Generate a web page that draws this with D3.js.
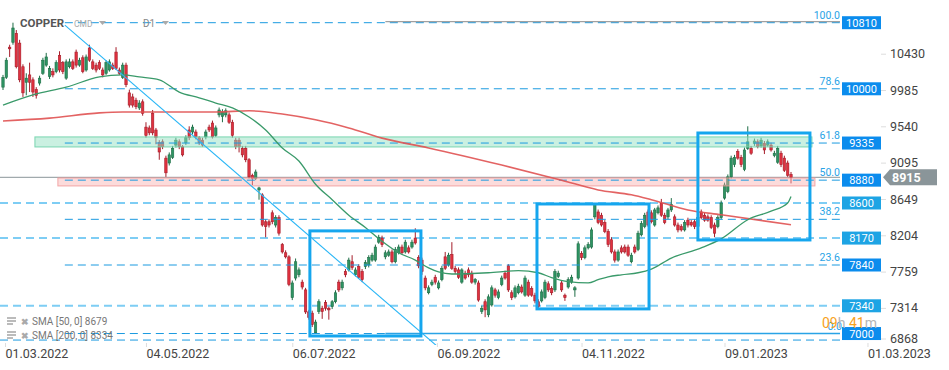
<!DOCTYPE html>
<meta charset="utf-8">
<script src="https://cdn.jsdelivr.net/npm/d3@7"></script>
<style>
body { margin: 0; background: #fff; }
text { font-family: Roboto, "Open Sans", sans-serif; }
.tick line { stroke: #ddd; }
</style>
<body>
<div id="chart"></div>
<script>
// daily copper candles (one entry per trading day)
var opens = [10020,10140,10510,10570,10680,10560,10270,10080,10170,10110,9990,10070,10190,10290,10150,10210,10210,10410,10320,10130,
  10270,10330,10450,10290,10380,10230,10500,10330,10290,10320,10230,10190,10230,10290,10450,10230,10140,10290,9950,9900,
  9860,9765,9840,9530,9520,9700,9495,9340,9350,9150,9090,9160,9310,9350,9290,9340,9495,9470,9470,9400,
  9370,9410,9530,9580,9430,9680,9660,9680,9680,9590,9370,9370,9270,9270,9130,8940,8900,8760,8700,8370,
  8370,8480,8330,8420,8090,7990,7940,7440,7680,7720,7630,7535,7265,7250,7010,7270,7310,7380,7310,7330,
  7390,7630,7560,7760,7780,7880,7720,7820,7760,7820,7840,7900,7900,8120,8170,7940,7960,8000,7880,7990,
  8060,8000,8050,8060,8170,7930,7900,7680,7500,7600,7690,7560,7660,7940,7840,7970,7800,7780,7630,7740,
  7780,7740,7630,7620,7270,7390,7230,7350,7535,7440,7600,7740,7830,7500,7450,7500,7570,7470,7630,7550,
  7470,7390,7400,7440,7610,7550,7535,7700,7620,7470,7570,7630,7535,7680,7980,7930,8050,8060,8430,8490,
  8450,8360,8250,8150,8000,7900,8050,8060,8060,7880,8060,8030,8210,8310,8490,8480,8330,8480,8600,8450,
  8430,8515,8430,8330,8310,8270,8390,8360,8370,8310,8490,8450,8430,8420,8330,8310,8420,8660,8740,8920,
  9070,9230,9160,9010,9270,9270,9330,9350,9300,9330,9310,9310,9180,9100,9210,9150,9090,8950];
var highs = [10170,10380,10540,10810,10720,10600,10300,10190,10320,10140,10020,10160,10380,10440,10280,10250,10350,10460,10340,10360,
  10370,10360,10480,10380,10410,10420,10540,10360,10320,10350,10260,10350,10360,10320,10510,10260,10320,10320,9990,9940,
  9890,9860,9870,9590,9550,9740,9520,9370,9380,9180,9220,9300,9400,9380,9310,9430,9540,9560,9500,9420,
  9400,9500,9560,9610,9550,9770,9750,9760,9710,9620,9400,9400,9300,9300,9150,8960,9010,8800,8720,8400,
  8400,8510,8450,8450,8110,8020,7960,7650,7920,7810,7660,7560,7290,7280,7170,7420,7340,7410,7330,7410,
  7530,7660,7660,7790,7930,7960,7810,7850,7790,7900,7960,7990,8090,8210,8200,8020,8030,8030,8060,8090,
  8090,8150,8080,8150,8290,7960,7930,7710,7590,7660,7720,7650,7830,8000,7990,8120,7830,7810,7800,7770,
  7810,7770,7680,7650,7340,7420,7480,7590,7560,7540,7710,7770,7850,7530,7590,7610,7600,7710,7660,7580,
  7500,7420,7540,7660,7640,7580,7790,7770,7650,7490,7690,7720,7580,8130,8010,8080,8120,8300,8600,8520,
  8480,8390,8280,8180,8030,8030,8080,8090,8090,7990,8090,8260,8380,8480,8520,8510,8540,8570,8650,8480,
  8540,8660,8460,8360,8340,8390,8420,8390,8400,8450,8520,8480,8460,8450,8360,8450,8630,8850,8950,9180,
  9190,9260,9190,9280,9540,9300,9390,9380,9400,9360,9380,9340,9240,9300,9240,9180,9120,8980];
var lows = [9985,10120,10390,10540,10250,10080,9900,9920,9960,9900,9880,10040,10170,10270,10120,10140,10190,10200,10180,10110,
  10250,10230,10260,10270,10190,10210,10330,10230,10200,10230,10140,10170,10210,10230,10230,10170,10120,10020,9770,9770,
  9750,9740,9670,9400,9430,9430,9320,9130,9260,8920,9060,9140,9280,9260,9170,9310,9370,9440,9380,9310,
  9290,9380,9470,9390,9410,9650,9590,9650,9570,9400,9260,9220,9160,9100,8900,8820,8880,8640,8310,8180,
  8300,8340,8300,8200,7980,7920,7580,7410,7650,7690,7540,7240,7170,7080,7000,7240,7180,7280,7170,7300,
  7370,7510,7530,7690,7760,7780,7700,7670,7630,7790,7810,7880,7880,8100,8060,7910,7940,7860,7860,7970,
  7970,7980,7980,8040,8090,7800,7720,7530,7480,7580,7600,7540,7640,7780,7820,7780,7730,7670,7610,7660,
  7690,7610,7600,7390,7240,7200,7200,7330,7440,7420,7580,7660,7510,7410,7430,7480,7490,7450,7450,7450,
  7370,7300,7380,7420,7510,7470,7510,7680,7510,7400,7550,7610,7450,7660,7900,7910,8030,8040,8400,8340,
  8310,8230,8060,7980,7870,7880,7980,7980,7940,7860,7980,8010,8190,8290,8310,8350,8310,8460,8430,8340,
  8400,8490,8310,8240,8250,8250,8300,8310,8280,8290,8400,8370,8370,8280,8180,8290,8400,8640,8720,8900,
  9040,9130,9040,8990,9250,9190,9300,9270,9280,9200,9290,9230,9160,9080,9040,8980,8920,8840];
var closes = [10140,10350,10490,10745,10270,10110,9950,10130,10080,9960,9920,10130,10350,10390,10250,10170,10320,10230,10210,10330,
  10330,10250,10290,10350,10210,10390,10350,10250,10230,10250,10170,10320,10330,10250,10250,10190,10290,10050,9800,9800,
  9780,9825,9700,9430,9460,9460,9400,9225,9290,8970,9190,9270,9370,9290,9190,9400,9400,9530,9410,9340,
  9310,9470,9495,9410,9520,9740,9715,9730,9590,9430,9290,9290,9190,9130,8920,8900,8980,8785,8330,8310,
  8330,8370,8420,8230,8000,7940,7600,7620,7880,7780,7570,7265,7200,7110,7140,7390,7270,7310,7290,7390,
  7500,7535,7630,7720,7900,7810,7780,7690,7660,7870,7930,7960,8060,8180,8090,7990,8000,7880,8030,8060,
  7990,8120,8000,8120,8110,7830,7760,7560,7560,7630,7630,7620,7800,7800,7960,7800,7760,7690,7780,7680,
  7720,7630,7660,7410,7310,7290,7450,7560,7470,7510,7680,7680,7535,7440,7560,7580,7510,7680,7470,7470,
  7400,7330,7510,7630,7535,7500,7760,7740,7535,7440,7660,7690,7560,8100,7930,8050,8090,8270,8580,8360,
  8330,8250,8090,8000,7900,8000,8000,8000,7960,7960,8000,8230,8350,8450,8330,8370,8515,8540,8450,8360,
  8515,8580,8330,8270,8270,8360,8330,8330,8310,8420,8420,8390,8390,8300,8230,8420,8600,8820,8920,9150,
  9160,9150,9070,9250,9350,9210,9360,9290,9370,9250,9350,9250,9210,9270,9070,9000,8940,8915];

// day index -> date label on the time axis
var dateIdx = [0.6, 43, 87, 130.5, 174, 217, 260];
var dateLabels = ["01.03.2022", "04.05.2022", "06.07.2022", "06.09.2022", "04.11.2022", "09.01.2023", "01.03.2023"];
var priceTicks = [10430, 9985, 9540, 9095, 8649, 8204, 7759, 7314, 6868];

// moving averages, sampled along the drawn lines [day index, value]
var sma50 = [[0,9800],[9,9925],[19,10020],[29,10145],[36,10170],[41,10145],[47,10110],[53,9960],[59,9890],[64,9825],
  [69,9765],[74,9655],[79,9495],[84,9275],[89,9115],[94,8830],[99,8640],[104,8450],[109,8300],[114,8130],[119,7990],
  [124,7900],[128,7805],[131,7755],[135,7730],[146,7745],[155,7770],[161,7745],[165,7685],[170,7635],[176,7620],
  [179,7660],[182,7695],[186,7720],[191,7745],[195,7790],[201,7925],[210,8050],[216,8160],[224,8395],[231,8500],
  [236,8600],[237,8679]];
var sma200 = [[0,9605],[14,9640],[29,9705],[36,9715],[49,9715],[64,9715],[74,9730],[84,9690],[94,9620],[104,9520],
  [114,9395],[128,9275],[150,9065],[168,8880],[179,8760],[189,8700],[195,8640],[206,8515],[216,8455],[237,8334]];

// drawing tools
var fibLevels = [10810, 10000, 9335, 8880, 8400, 7840, 7000];
var fibNames = ["100.0", "78.6", "61.8", "50.0", "38.2", "23.6", "0.0"];
var fibStart = 18.6, fibAnchor = 115;
var lineLevels = [8600, 8170, 7340, 6920];
var tagLevels = [10810, 10000, 9335, 8880, 8600, 8170, 7840, 7340, 7000];
var tagDark = [true, true, true, true, false, false, true, false, true];
var zoneGreen = [9.6, 243.3, 9410, 9287];
var zonePink = [16.5, 244.2, 8907, 8809];
var boxes = [[92.3, 125.7, 8258, 6970], [160.6, 194.3, 8588, 7302], [209, 242.7, 9458, 8147]];
var trend = [[18.6, 10780], [129, 6900]];
var lastPrice = 8915;
var smaLegend = ["SMA [50, 0] 8679", "SMA [200, 0] 8334"];

var width = 949, height = 370;
var plotRight = 840, plotBottom = 345;

var svg = d3.select("#chart").append("svg")
  .attr("width", width)
  .attr("height", height);

var x = d3.scaleLinear().domain([0, closes.length - 1]).range([3, 791]);
var y = d3.scaleLinear().domain([6868, 10430]).range([344.3, 53.7]);

svg.append("defs").append("clipPath").attr("id", "plot")
  .append("rect").attr("x", 0).attr("y", 0).attr("width", plotRight).attr("height", plotBottom);

var g = svg.append("g").attr("clip-path", "url(#plot)");

// current price line
g.append("line")
  .attr("x1", 0).attr("x2", plotRight)
  .attr("y1", y(lastPrice)).attr("y2", y(lastPrice))
  .attr("stroke", "#8a9599").attr("stroke-width", 1);

// user horizontal lines
g.selectAll(".hl").data(lineLevels).enter().append("line")
  .attr("x1", 0).attr("x2", plotRight)
  .attr("y1", d => y(d)).attr("y2", d => y(d))
  .attr("stroke", (d, i) => i == 3 ? "#1a9ae0" : "#7ecdf4")
  .attr("stroke-width", (d, i) => i == 3 ? 1 : 2)
  .attr("stroke-dasharray", "8,5");

// candles
var candles = g.append("g");
var idx = d3.range(closes.length);
candles.selectAll(".wick").data(idx).enter().append("line")
  .attr("x1", i => x(i)).attr("x2", i => x(i))
  .attr("y1", i => y(highs[i])).attr("y2", i => y(lows[i]))
  .attr("stroke", i => closes[i] >= opens[i] ? "#1f6e47" : "#a51d2a")
  .attr("stroke-width", 1);
candles.selectAll(".body").data(idx).enter().append("rect")
  .attr("x", i => x(i) - 1.2)
  .attr("width", 2.4)
  .attr("y", i => y(Math.max(opens[i], closes[i])))
  .attr("height", i => Math.max(1, Math.abs(y(opens[i]) - y(closes[i]))))
  .attr("fill", i => closes[i] >= opens[i] ? "#2e9463" : "#e0313f")
  .attr("stroke", i => closes[i] >= opens[i] ? "#1f6e47" : "#a51d2a")
  .attr("stroke-width", 0.6);

// zones on top of candles
function zone(z, fill, stroke) {
  g.append("rect")
    .attr("x", x(z[0])).attr("width", x(z[1]) - x(z[0]))
    .attr("y", y(z[2])).attr("height", y(z[3]) - y(z[2]))
    .attr("fill", fill).attr("stroke", stroke).attr("stroke-width", 1);
}
zone(zoneGreen, "rgba(150,225,195,0.5)", "rgba(110,210,170,0.9)");
zone(zonePink, "rgba(248,175,175,0.45)", "rgba(240,150,150,0.8)");

// fib dashed levels
g.selectAll(".fib").data(fibLevels).enter().append("line")
  .attr("x1", x(fibStart)).attr("x2", plotRight)
  .attr("y1", d => y(d)).attr("y2", d => y(d))
  .attr("stroke", "#1a9ae0").attr("stroke-width", 1)
  .attr("stroke-dasharray", "8,5");
// fib 100 and 0 lines
g.append("line")
  .attr("x1", x(fibAnchor)).attr("x2", plotRight)
  .attr("y1", y(fibLevels[0]) - 1).attr("y2", y(fibLevels[0]) - 1)
  .attr("stroke", "#8a8a8a").attr("stroke-width", 1);
g.append("line")
  .attr("x1", x(fibAnchor)).attr("x2", plotRight)
  .attr("y1", y(fibLevels[6])).attr("y2", y(fibLevels[6]))
  .attr("stroke", "#29a3e6").attr("stroke-width", 1.5);

// moving averages
var smaLine = d3.line().x(d => x(d[0])).y(d => y(d[1])).curve(d3.curveMonotoneX);
g.append("path").datum(sma200).attr("d", smaLine)
  .attr("fill", "none").attr("stroke", "#e05252").attr("stroke-width", 1.6).attr("opacity", 0.9);
g.append("path").datum(sma50).attr("d", smaLine)
  .attr("fill", "none").attr("stroke", "#3a9a6a").attr("stroke-width", 1.3);

// trend line, extended to the bottom
var slope = (trend[1][1] - trend[0][1]) / (trend[1][0] - trend[0][0]);
g.append("line")
  .attr("x1", x(trend[0][0])).attr("y1", y(trend[0][1]))
  .attr("x2", x(trend[1][0] + 8)).attr("y2", y(trend[1][1] + slope * 8))
  .attr("stroke", "#29b6f6").attr("stroke-width", 1.1);

// rectangles
g.selectAll(".box").data(boxes).enter().append("rect")
  .attr("x", d => x(d[0])).attr("width", d => x(d[1]) - x(d[0]))
  .attr("y", d => y(d[2])).attr("height", d => y(d[3]) - y(d[2]))
  .attr("fill", "none").attr("stroke", "#15a6ee").attr("stroke-width", 3);

// fib labels
svg.selectAll(".fibl").data(fibLevels).enter().append("text")
  .attr("x", (d, i) => i == 6 ? 842 : 840)
  .attr("y", d => y(d) - 4)
  .attr("text-anchor", "end")
  .attr("font-size", "10.5px")
  .attr("fill", "#29a3e6")
  .text((d, i) => fibNames[i]);

// title
svg.append("text").attr("x", 20).attr("y", 27).attr("font-size", "11.5px").attr("font-weight", "bold")
  .attr("fill", "#555").text("COPPER");
svg.append("text").attr("x", 74).attr("y", 27).attr("font-size", "8.5px").attr("fill", "#aaa").text("CMD");
svg.append("text").attr("x", 143).attr("y", 27).attr("font-size", "10px").attr("fill", "#888").text("D1");
[[99, 21], [162, 21]].forEach(p => {
  svg.append("path").attr("d", "M" + p[0] + "," + p[1] + "h7l-3.5,4z").attr("fill", "#aaa");
});

// legend
smaLegend.forEach((t, i) => {
  var ly = 324 + i * 14;
  var lg = svg.append("g").attr("transform", "translate(0," + ly + ")");
  lg.append("rect").attr("x", 7).attr("y", -7).attr("width", 9).attr("height", 2).attr("fill", "#bbb");
  lg.append("rect").attr("x", 7).attr("y", -4).attr("width", 9).attr("height", 2).attr("fill", "#bbb");
  lg.append("rect").attr("x", 7).attr("y", -1).attr("width", 6).attr("height", 2).attr("fill", "#bbb");
  lg.append("text").attr("x", 21).attr("y", 1).attr("font-size", "9px").attr("fill", "#aaa").attr("font-weight", "bold").text("\u2716");
  lg.append("text").attr("x", 32).attr("y", 1).attr("font-size", "10px").attr("fill", "#777").text(t);
});

// price tags
var tags = svg.selectAll(".tag").data(tagLevels).enter().append("g")
  .attr("transform", d => "translate(842," + (Math.min(y(d), 335) - 6.5) + ")");
tags.append("rect").attr("width", 39).attr("height", 13)
  .attr("fill", (d, i) => tagDark[i] ? "#0b8ced" : "#1ea4e4");
tags.append("text").attr("x", 19.5).attr("y", 10.5).attr("text-anchor", "middle")
  .attr("font-size", "11px").attr("fill", "#fff").text(d => d);

// countdown to the candle close
var cd = svg.append("text").attr("x", 822).attr("y", 328).attr("font-size", "14px");
cd.append("tspan").attr("fill", "#f7a21b").text("09");
cd.append("tspan").attr("fill", "#b5b5b5").text("h ");
cd.append("tspan").attr("fill", "#f7a21b").text("41");
cd.append("tspan").attr("fill", "#b5b5b5").text("m");

// right price axis
var yAxis = svg.append("g").attr("transform", "translate(881,0)")
  .call(d3.axisRight(y).tickValues(priceTicks).tickSize(5).tickPadding(4).tickFormat(d => d));
yAxis.select(".domain").remove();
yAxis.selectAll("text").attr("font-size", "12.5px").attr("fill", "#444").attr("font-family", "Roboto, sans-serif");
yAxis.selectAll(".tick").filter(d => y(d) > 339).attr("transform", "translate(0,339)");

// last price tag
var ly = y(lastPrice);
svg.append("path")
  .attr("d", "M883," + ly + "L890," + (ly - 8) + "H937V" + (ly + 8) + "H890Z")
  .attr("fill", "#8a9599");
svg.append("text").attr("x", 892).attr("y", ly + 4.5).attr("font-size", "12.5px").attr("font-weight", "bold")
  .attr("fill", "#fff").text(lastPrice);

// time axis
var xAxis = svg.append("g").attr("transform", "translate(0," + (plotBottom - 2) + ")")
  .call(d3.axisBottom(x).tickValues(dateIdx).tickSize(4).tickPadding(2)
    .tickFormat((d, i) => dateLabels[i]));
xAxis.select(".domain").remove();
xAxis.selectAll("text").attr("text-anchor", "start").attr("font-size", "12.5px")
  .attr("fill", "#444").attr("font-family", "Roboto, sans-serif");
</script>
</body>
</html>
